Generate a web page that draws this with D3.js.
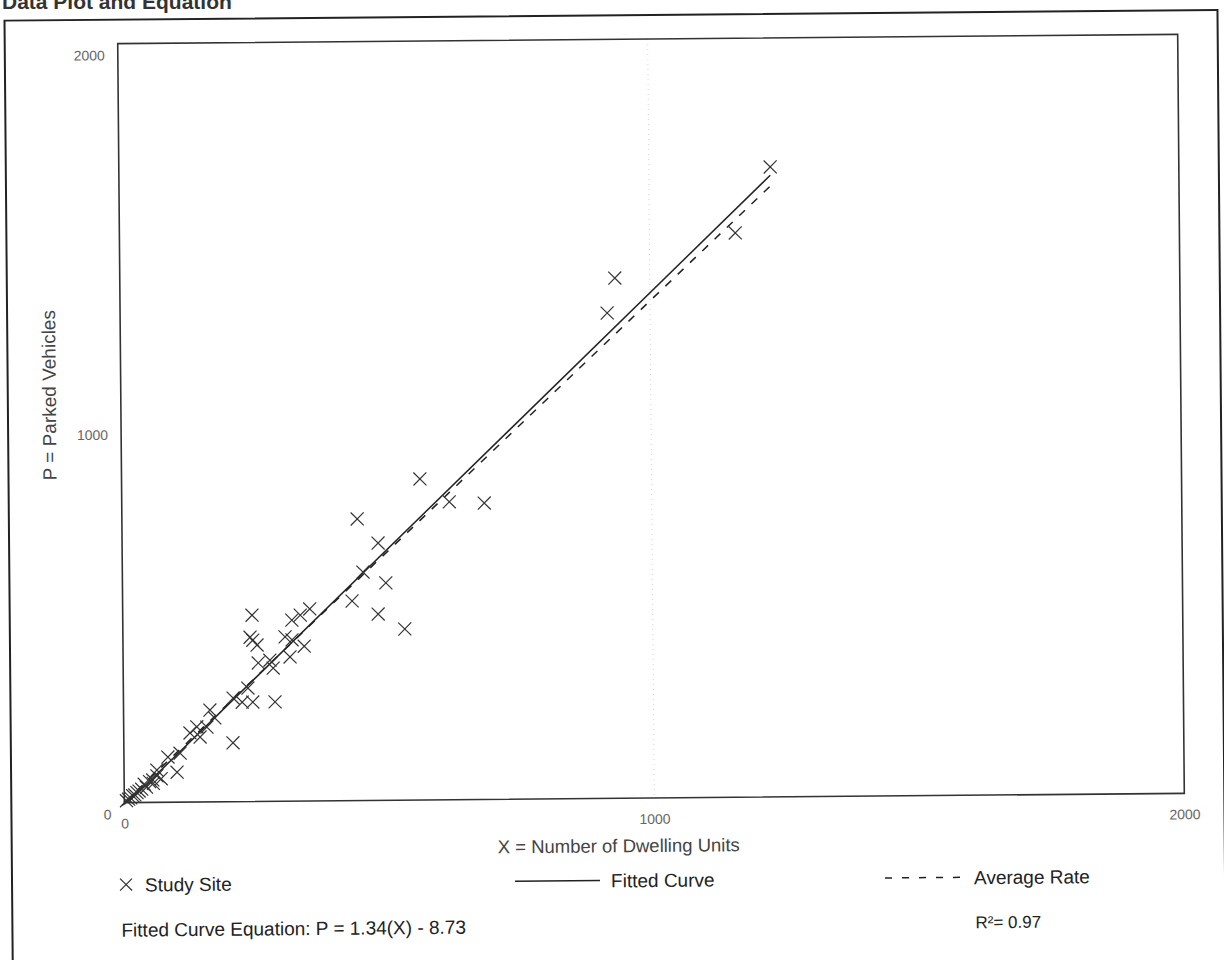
<!DOCTYPE html>
<html>
<head>
<meta charset="utf-8">
<script src="https://cdn.jsdelivr.net/npm/d3@7"></script>
<style>
  body { margin: 0; background: #fff; }
  svg { display: block; }
  text { font-family: "Liberation Sans", Arial, sans-serif; }
</style>
</head>
<body>
<svg id="chart" width="1224" height="960"></svg>
<script>
// values
let xTicks = [0, 1000, 2000]
let yTicks = [0, 1000, 2000]

let siteX = [1229, 1162, 934, 919, 563, 618, 684, 444, 483, 454, 497, 433, 482, 532, 353, 335, 319,
  244, 240, 245, 253, 306, 319, 342, 315, 255, 277, 283, 235, 207, 224, 244, 286, 206, 163, 172,
  157, 138, 144, 125, 106, 83, 100, 62, 54, 70, 62, 55, 48, 42, 38, 33, 28, 24, 20, 16, 12, 8, 4]
let siteY = [1660, 1487, 1371, 1279, 846, 785, 781, 742, 678, 602, 573, 526, 491, 451, 506, 490, 477,
  491, 433, 425, 412, 433, 425, 408, 380, 365, 372, 351, 299, 273, 262, 262, 262, 155, 242, 221,
  197, 198, 171, 182, 129, 119, 79, 85, 59, 62, 70, 50, 55, 40, 48, 35, 30, 26, 20, 18, 12, 9, 5]

let fitSlope = 1.34
let fitIntercept = -8.73
let avgRate = 1.31

let svg = d3.select("#chart")

// the scan is tilted a little, right side higher
let g = svg.append("g").attr("transform", "rotate(-0.5, 651, 418)")

// title, mostly cut off by the page top
svg.append("text")
    .attr("x", 2).attr("y", 9)
    .attr("font-size", 21).attr("font-weight", "bold")
    .attr("fill", "#333")
    .text("Data Plot and Equation")

// outer frame
g.append("rect")
    .attr("x", 8).attr("y", 15)
    .attr("width", 1213).attr("height", 990)
    .attr("fill", "none").attr("stroke", "#222").attr("stroke-width", 2)

let x = d3.scaleLinear().domain([0, 2000]).range([121, 1181])
let y = d3.scaleLinear().domain([0, 2000]).range([798, 39])

// faint dotted line at 1000
g.append("line")
    .attr("x1", x(1000)).attr("x2", x(1000))
    .attr("y1", y(2000)).attr("y2", y(0))
    .attr("stroke", "#d4d4d4").attr("stroke-width", 1)
    .attr("stroke-dasharray", "1,4")

g.append("rect")
    .attr("x", x(0)).attr("y", y(2000))
    .attr("width", x(2000) - x(0)).attr("height", y(0) - y(2000))
    .attr("fill", "none").attr("stroke", "#333").attr("stroke-width", 1.6)

let xAxis = g.append("g")
    .attr("transform", `translate(0, ${y(0)})`)
    .call(d3.axisBottom(x).tickValues(xTicks).tickSize(0).tickPadding(16).tickFormat(d3.format("d")))
xAxis.select(".domain").remove()
xAxis.selectAll("text").attr("font-size", 14).attr("fill", "#666").attr("font-family", "Liberation Sans, Arial, sans-serif")

let yAxis = g.append("g")
    .attr("transform", `translate(${x(0)}, 0)`)
    .call(d3.axisLeft(y).tickValues(yTicks).tickSize(0).tickPadding(13).tickFormat(d3.format("d")))
yAxis.select(".domain").remove()
yAxis.selectAll("text").attr("font-size", 14).attr("fill", "#666").attr("dy", "1.15em")
    .attr("font-family", "Liberation Sans, Arial, sans-serif")

// axis titles
g.append("text")
    .attr("x", 615).attr("y", 852)
    .attr("text-anchor", "middle")
    .attr("font-size", 18.5).attr("fill", "#444")
    .text("X = Number of Dwelling Units")

g.append("text")
    .attr("transform", "translate(56, 390) rotate(-90)")
    .attr("text-anchor", "middle")
    .attr("font-size", 19).attr("fill", "#444")
    .text("P = Parked Vehicles")

// fitted curve and average rate lines
let xMin = d3.min(siteX.filter(v => v * fitSlope + fitIntercept > 0))
let xMax = d3.max(siteX)

let line = d3.line().x(d => x(d[0])).y(d => y(d[1]))

g.append("path")
    .datum([[xMin, fitSlope * xMin + fitIntercept], [xMax, fitSlope * xMax + fitIntercept]])
    .attr("d", line)
    .attr("fill", "none").attr("stroke", "#222").attr("stroke-width", 1.5)

g.append("path")
    .datum([[0, 0], [xMax, avgRate * xMax]])
    .attr("d", line)
    .attr("fill", "none").attr("stroke", "#222").attr("stroke-width", 1.5)
    .attr("stroke-dasharray", "8,9")

// study sites as x marks
let s = 6.5
g.append("g")
    .selectAll("path")
    .data(siteX.map((v, i) => [v, siteY[i]]))
    .enter()
    .append("path")
    .attr("d", d => {
        let cx = x(d[0]), cy = y(d[1])
        return `M${cx - s},${cy - s}L${cx + s},${cy + s}M${cx - s},${cy + s}L${cx + s},${cy - s}`
    })
    .attr("fill", "none").attr("stroke", "#333").attr("stroke-width", 1.2)

// legend
let legY = 880
g.append("path")
    .attr("d", `M${122 - 6},${legY - 6}L${122 + 6},${legY + 6}M${122 - 6},${legY + 6}L${122 + 6},${legY - 6}`)
    .attr("stroke", "#333").attr("stroke-width", 1.2)
g.append("text").attr("x", 141).attr("y", legY + 7)
    .attr("font-size", 19).attr("fill", "#222").text("Study Site")

g.append("line")
    .attr("x1", 511).attr("x2", 596).attr("y1", legY).attr("y2", legY)
    .attr("stroke", "#222").attr("stroke-width", 1.5)
g.append("text").attr("x", 607).attr("y", legY + 7)
    .attr("font-size", 19).attr("fill", "#222").text("Fitted Curve")

g.append("line")
    .attr("x1", 881).attr("x2", 956).attr("y1", legY).attr("y2", legY)
    .attr("stroke", "#222").attr("stroke-width", 1.5)
    .attr("stroke-dasharray", "7,10")
g.append("text").attr("x", 970).attr("y", legY + 7)
    .attr("font-size", 19).attr("fill", "#222").text("Average Rate")

g.append("text").attr("x", 117).attr("y", 932)
    .attr("font-size", 19).attr("fill", "#222")
    .text("Fitted Curve Equation: P = 1.34(X) - 8.73")

g.append("text").attr("x", 971).attr("y", 931)
    .attr("font-size", 17).attr("fill", "#222")
    .text("R²= 0.97")
</script>
</body>
</html>
